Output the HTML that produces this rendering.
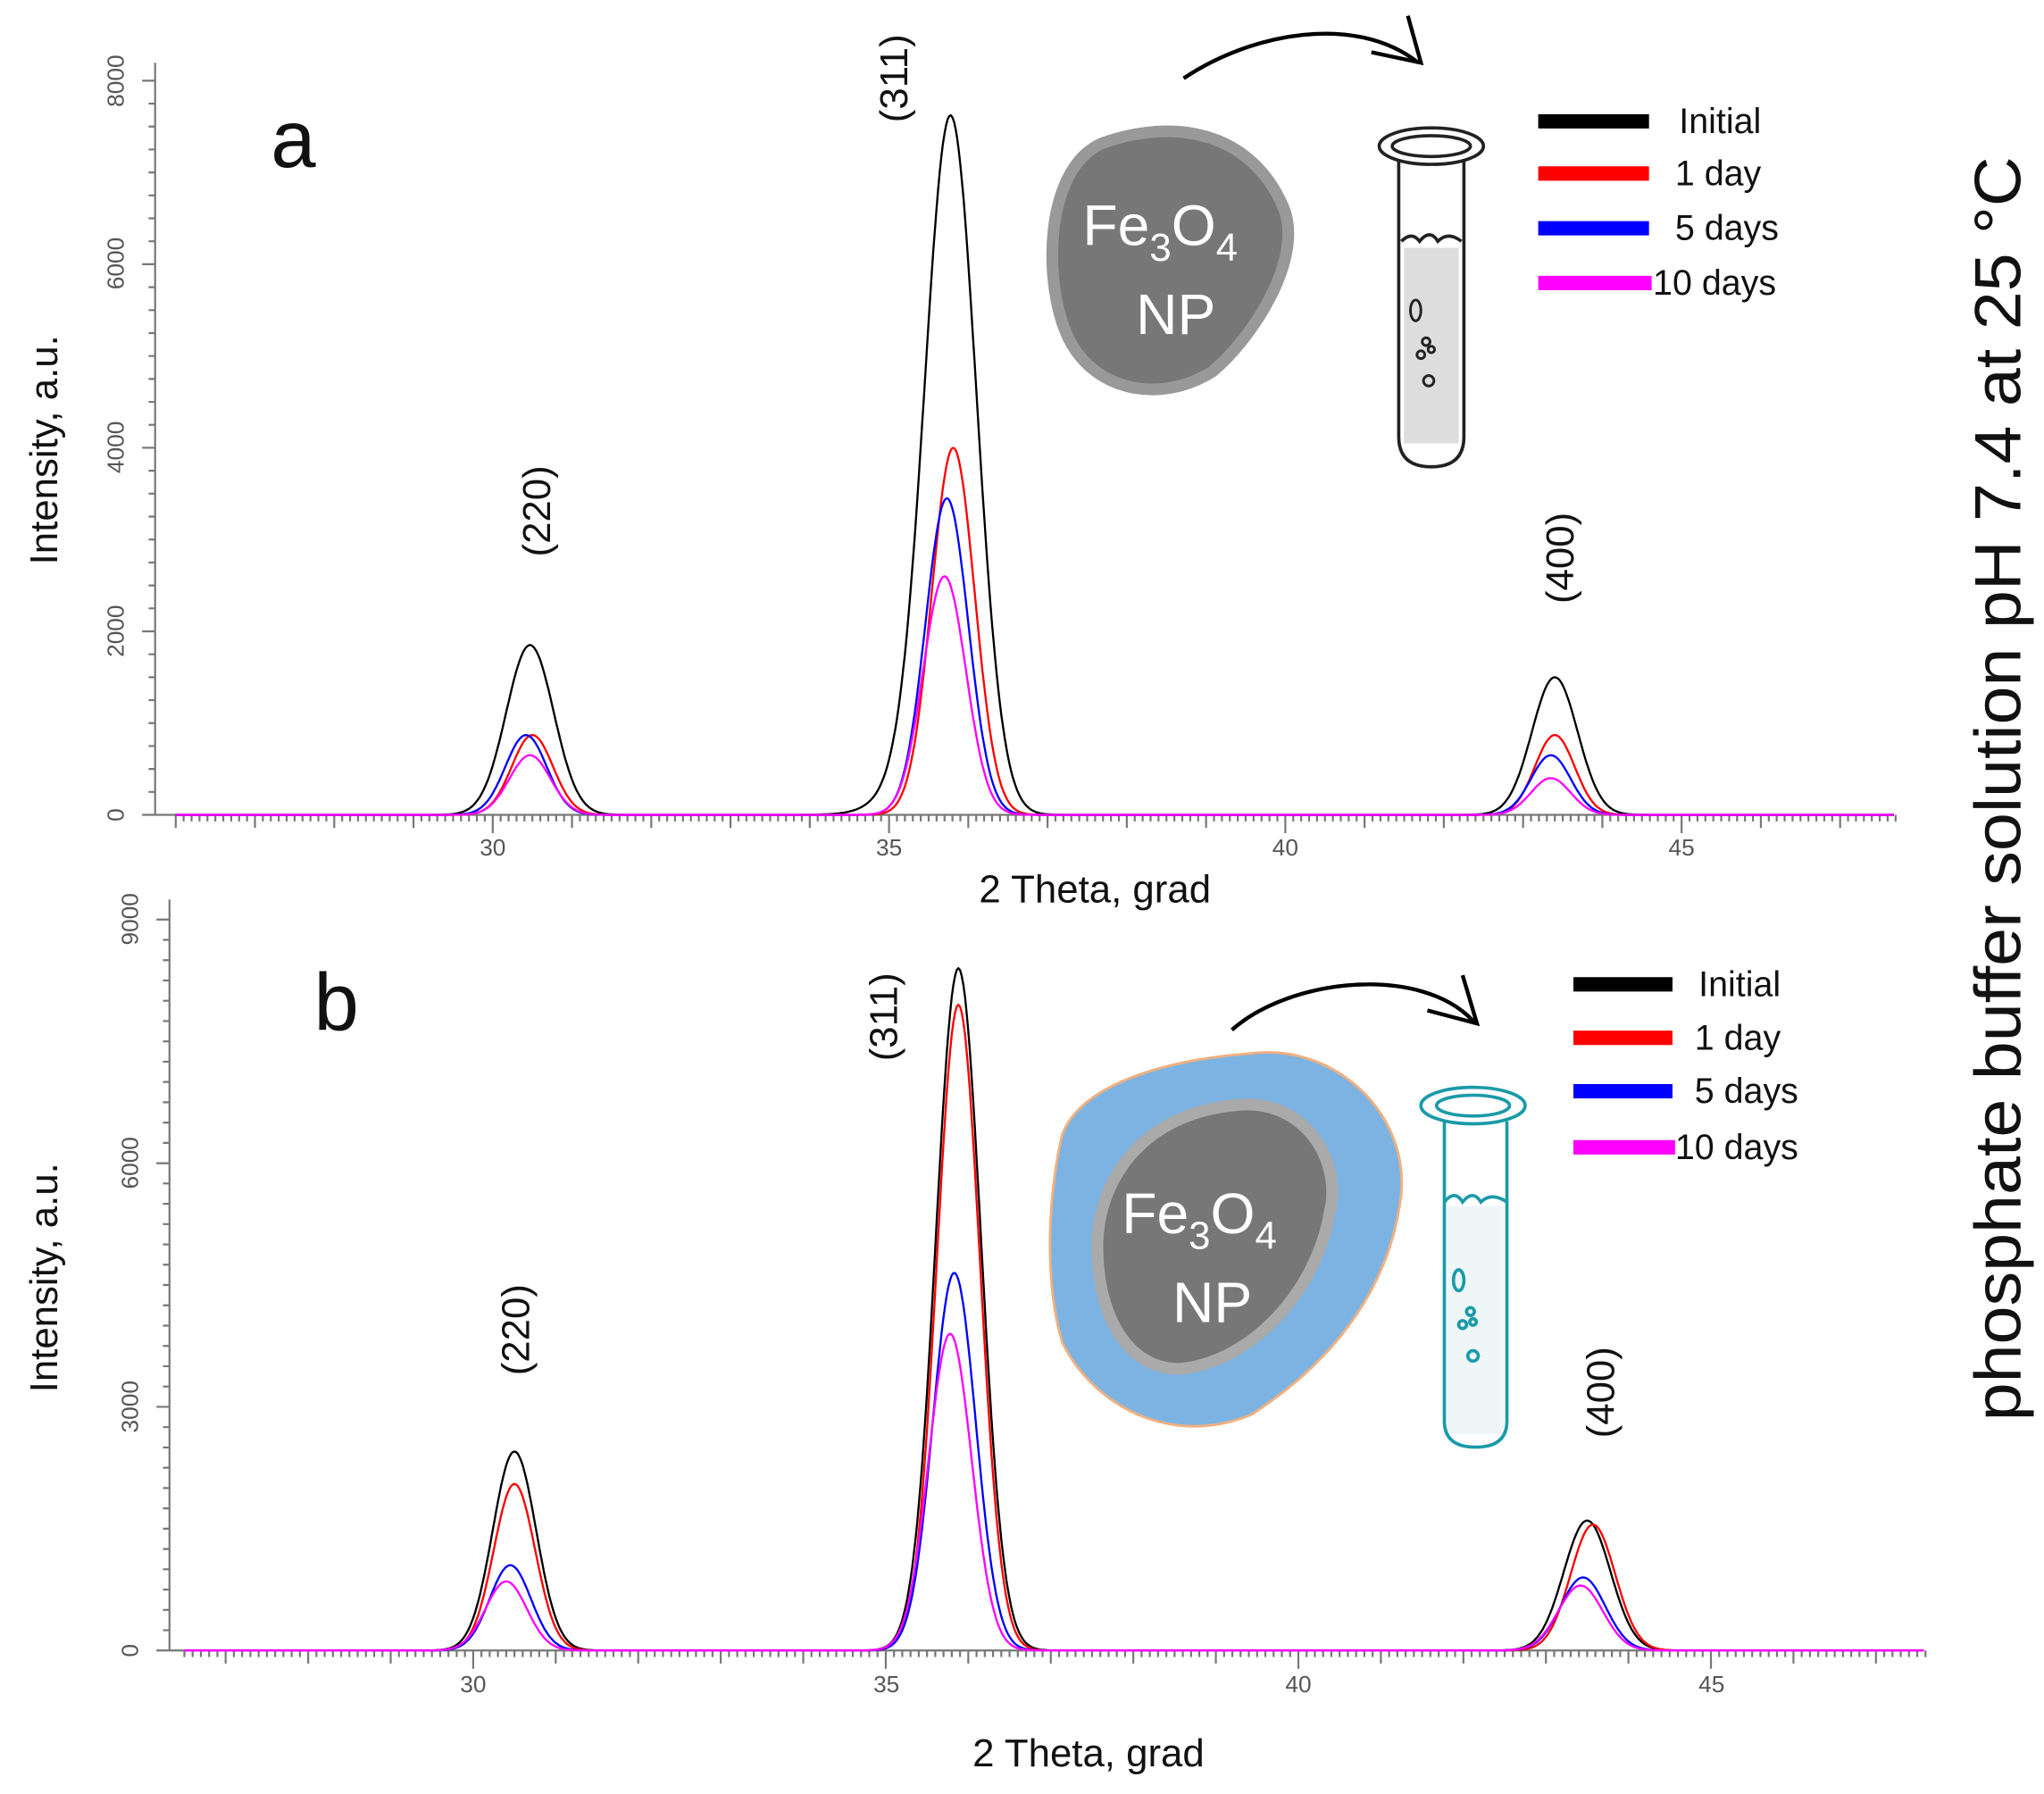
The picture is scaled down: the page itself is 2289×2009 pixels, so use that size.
<!DOCTYPE html>
<html><head><meta charset="utf-8"><style>
html,body{margin:0;padding:0;background:#fff;}
svg{display:block;}
text{font-family:"Liberation Sans",sans-serif;}
</style></head><body>
<svg id="s" width="2289" height="2009" viewBox="0 0 1568 1376" xmlns="http://www.w3.org/2000/svg">
<rect width="1568" height="1376" fill="#fff"/>
<g id="axes" stroke="#777" stroke-width="1.5" fill="none"></g>
<g id="series" fill="none" stroke-width="1.6"></g>
<g fill="#555" font-size="18">
<text transform="translate(95,625) rotate(-90)" text-anchor="middle">0</text>
<text transform="translate(95,484) rotate(-90)" text-anchor="middle">2000</text>
<text transform="translate(95,343) rotate(-90)" text-anchor="middle">4000</text>
<text transform="translate(95,202) rotate(-90)" text-anchor="middle">6000</text>
<text transform="translate(95,62) rotate(-90)" text-anchor="middle">8000</text>
<text x="378" y="656" text-anchor="middle">30</text>
<text x="682" y="656" text-anchor="middle">35</text>
<text x="986" y="656" text-anchor="middle">40</text>
<text x="1290" y="656" text-anchor="middle">45</text>
<text transform="translate(106,1266) rotate(-90)" text-anchor="middle">0</text>
<text transform="translate(106,1079) rotate(-90)" text-anchor="middle">3000</text>
<text transform="translate(106,892) rotate(-90)" text-anchor="middle">6000</text>
<text transform="translate(106,705) rotate(-90)" text-anchor="middle">9000</text>
<text x="363" y="1298" text-anchor="middle">30</text>
<text x="680" y="1298" text-anchor="middle">35</text>
<text x="996" y="1298" text-anchor="middle">40</text>
<text x="1313" y="1298" text-anchor="middle">45</text>
</g>
<g fill="#111">
<text x="225" y="128" font-size="62" text-anchor="middle">a</text>
<text x="258" y="790" font-size="62" text-anchor="middle">b</text>
<text transform="translate(44,345) rotate(-90)" font-size="30" text-anchor="middle">Intensity, a.u.</text>
<text transform="translate(44,980) rotate(-90)" font-size="30" text-anchor="middle">Intensity, a.u.</text>
<text x="840" y="692" font-size="30" text-anchor="middle">2 Theta, grad</text>
<text x="835" y="1355" font-size="30" text-anchor="middle">2 Theta, grad</text>
<text transform="translate(1550,605) rotate(-90)" font-size="50" text-anchor="middle" textLength="970" lengthAdjust="spacingAndGlyphs">phosphate buffer solution  pH 7.4 at 25 °C</text>
<g font-size="30" text-anchor="middle">
<text transform="translate(422,392) rotate(-90)">(220)</text>
<text transform="translate(696,60) rotate(-90)">(311)</text>
<text transform="translate(1207,428) rotate(-90)">(400)</text>
<text transform="translate(406,1020) rotate(-90)">(220)</text>
<text transform="translate(688,780) rotate(-90)">(311)</text>
<text transform="translate(1238,1068) rotate(-90)">(400)</text>
</g>
<g font-size="27">
<text x="1288" y="102">Initial</text><text x="1285" y="142">1 day</text><text x="1285" y="184">5 days</text><text x="1268" y="226">10 days</text>
<text x="1303" y="764">Initial</text><text x="1300" y="805">1 day</text><text x="1300" y="846">5 days</text><text x="1285" y="889">10 days</text>
</g>
</g>
<g stroke-width="11">
<line x1="1180" y1="93" x2="1265" y2="93" stroke="#000"/>
<line x1="1180" y1="133" x2="1265" y2="133" stroke="#f00"/>
<line x1="1180" y1="175" x2="1265" y2="175" stroke="#00f"/>
<line x1="1180" y1="217" x2="1267" y2="217" stroke="#f0f"/>
<line x1="1207" y1="755" x2="1283" y2="755" stroke="#000"/>
<line x1="1207" y1="796" x2="1283" y2="796" stroke="#f00"/>
<line x1="1207" y1="837" x2="1283" y2="837" stroke="#00f"/>
<line x1="1207" y1="880" x2="1285" y2="880" stroke="#f0f"/>
</g>
<path d="M908,60 C960,25 1040,10 1088,48" stroke="#000" stroke-width="3" fill="none"/>
<path d="M1080,12 L1090,48 L1052,40" stroke="#000" stroke-width="3" fill="none"/>
<path d="M845,110 C900,90 960,100 985,160 C1000,200 960,260 930,285 C890,310 840,300 820,260 C800,220 800,130 845,110Z" fill="#777" stroke="#999" stroke-width="9"/>
<text x="890" y="188" font-size="44" fill="#fff" text-anchor="middle">Fe<tspan font-size="30" dy="12">3</tspan><tspan dy="-12">O</tspan><tspan font-size="30" dy="12">4</tspan></text>
<text x="902" y="256" font-size="44" fill="#fff" text-anchor="middle">NP</text>
<g stroke="#222" stroke-width="2.5" fill="none">
<ellipse cx="1098" cy="112" rx="40" ry="14"/>
<ellipse cx="1098" cy="112" rx="30" ry="8"/>
<path d="M1073,122 L1073,335 Q1073,358 1098,358 Q1123,358 1123,335 L1123,122"/>
<path d="M1075,185 q8,-8 14,0 q8,-10 14,0 q8,-8 18,0" />
</g>
<rect x="1077" y="190" width="42" height="150" fill="#ddd"/>
<g stroke="#222" stroke-width="2" fill="none">
<ellipse cx="1086" cy="238" rx="4" ry="8"/><circle cx="1094" cy="262" r="3"/><circle cx="1090" cy="272" r="3"/><circle cx="1098" cy="268" r="2.5"/><circle cx="1096" cy="292" r="4"/>
</g>
<path d="M945,790 C990,750 1090,740 1130,783" stroke="#000" stroke-width="3" fill="none"/>
<path d="M1122,748 L1133,785 L1095,775" stroke="#000" stroke-width="3" fill="none"/>
<path d="M960,808 C1020,800 1080,850 1075,915 C1068,980 1030,1040 960,1085 C900,1110 840,1080 815,1030 C800,980 805,910 815,870 C830,830 900,812 960,808Z" fill="#7cb3e2" stroke="#f0b080" stroke-width="2"/>
<path d="M945,848 C1000,840 1030,890 1020,930 C1010,990 960,1045 905,1050 C860,1050 840,1000 842,950 C845,900 880,855 945,848Z" fill="#777" stroke="#aaa" stroke-width="9"/>
<text x="920" y="946" font-size="44" fill="#fff" text-anchor="middle">Fe<tspan font-size="30" dy="12">3</tspan><tspan dy="-12">O</tspan><tspan font-size="30" dy="12">4</tspan></text>
<text x="930" y="1014" font-size="44" fill="#fff" text-anchor="middle">NP</text>
<rect x="1110" y="925" width="44" height="175" fill="#eef6f8"/>
<g stroke="#1a9aa8" stroke-width="2.5" fill="none">
<ellipse cx="1130" cy="848" rx="40" ry="14"/>
<ellipse cx="1130" cy="848" rx="28" ry="8"/>
<path d="M1108,860 L1108,1090 Q1108,1110 1132,1110 Q1156,1110 1156,1090 L1156,860"/>
<path d="M1108,922 q8,-10 14,0 q8,-10 14,0 q8,-8 20,0"/>
<ellipse cx="1119" cy="982" rx="4" ry="8"/><circle cx="1128" cy="1006" r="3"/><circle cx="1122" cy="1016" r="3"/><circle cx="1130" cy="1014" r="2.5"/><circle cx="1130" cy="1040" r="4"/>
</g>
<script>
(function(){
var NS="http://www.w3.org/2000/svg";
var ax=document.getElementById('axes'), se=document.getElementById('series');
function add(p,d,st){var e=document.createElementNS(NS,'path');e.setAttribute('d',d);for(var k in st)e.setAttribute(k,st[k]);p.appendChild(e);}
function panel(P){
 var d='M'+P.x0+','+P.yTop+' L'+P.x0+','+P.y0+' L'+P.x1+','+P.y0;
 for(var v=0;v<=P.ymax;v+=P.ystep){var y=P.y0-v*P.py;var L=(v%P.ymaj==0)?10:5;d+=' M'+(P.x0-L)+','+y+' L'+P.x0+','+y;}
 for(var t=P.tmin;t<=P.tmax+1e-6;t+=0.1){var x=P.xa+(t-30)*P.px;var r=Math.round(t*10);var L=(r%10==0)?(r%50==0?14:10):5;d+=' M'+x+','+P.y0+' L'+x+','+(P.y0+L);}
 add(ax,d,{});
 var cols=['#000','#f00','#00f','#f0f'];
 for(var s=0;s<4;s++){
  var pd='';
  for(var t=P.tmin;t<=P.tmax;t+=0.02){
   var I=0;
   P.peaks.forEach(function(pk){var h=pk.h[s];var c=pk.c+(pk.dc?pk.dc[s]:0);var w=pk.w*(s==0?pk.bw:1);I+=h*Math.exp(-Math.pow(t-c,2)/(2*w*w));});
   var x=P.xa+(t-30)*P.px,y=P.y0-I*P.py;
   pd+=(pd?' L':'M')+x.toFixed(1)+','+y.toFixed(1);
  }
  add(se,pd,{stroke:cols[s]});
 }
}
panel({x0:119,x1:1453,y0:625,yTop:48,py:0.0704,ymax:8000,ystep:250,ymaj:2000,xa:378,px:60.8,tmin:26,tmax:47.7,
 peaks:[{c:30.47,w:0.26,bw:1.15,h:[1850,870,870,650],dc:[0,0.03,-0.05,0]},{c:35.78,w:0.27,bw:1.2,h:[7500,4000,3450,2600],dc:[0,0.03,-0.05,-0.08]},{c:35.3,w:0.4,bw:1,h:[250,0,0,0]},{c:43.4,w:0.25,bw:1.15,h:[1500,870,650,400],dc:[0,0,-0.05,-0.05]}]});
panel({x0:130,x1:1475,y0:1266,yTop:690,py:0.0623,ymax:9000,ystep:250,ymaj:3000,xa:363,px:63.3,tmin:26.5,tmax:47.6,
 peaks:[{c:30.5,w:0.25,bw:1.05,h:[2450,2050,1050,850],dc:[0,0,-0.05,-0.1]},{c:35.88,w:0.26,bw:1.05,h:[8400,7950,4650,3900],dc:[0,0,-0.05,-0.1]},{c:43.5,w:0.27,bw:1.05,h:[1600,1550,900,800],dc:[0,0.07,-0.05,-0.08]}]});
})();
</script>
</svg>
</body></html>
